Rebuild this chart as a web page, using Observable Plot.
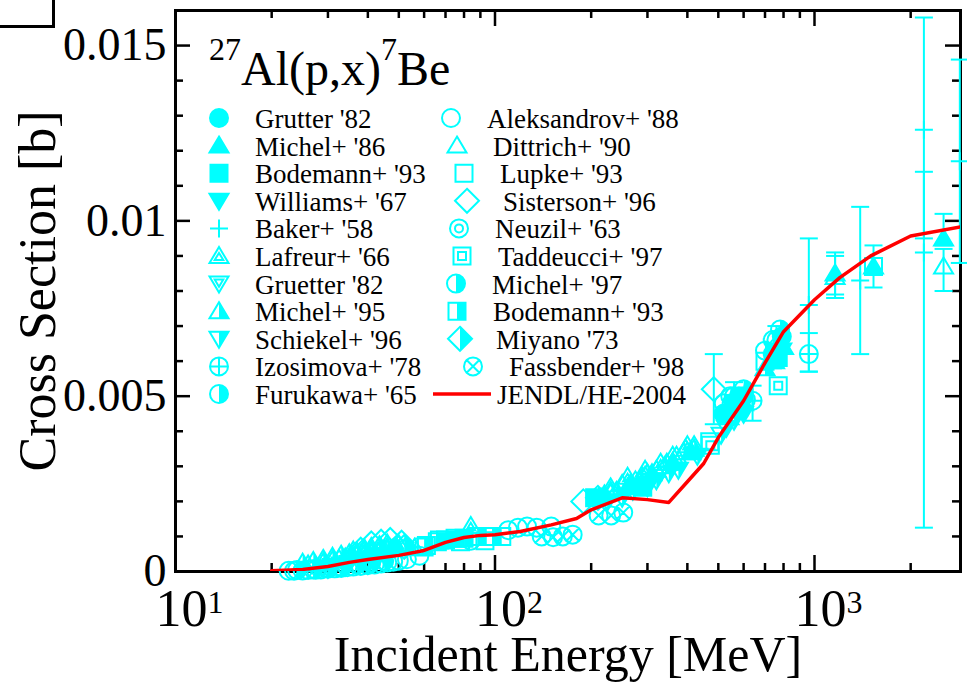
<!DOCTYPE html>
<html><head><meta charset="utf-8">
<script src="https://cdn.jsdelivr.net/npm/d3@7"></script>
<script src="https://cdn.jsdelivr.net/npm/@observablehq/plot@0.6"></script>
<style>
html,body{margin:0;padding:0;background:#fff;}
#wrap{position:relative;width:967px;height:683px;overflow:hidden;background:#fff;}
#wrap svg{position:absolute;left:0;top:0;}
</style></head><body><div id="wrap"></div>
<script>
// ---------------- DATA ----------------
// [energy MeV, cross section b]  or  [energy, xs, lower, upper] for points with error bars
const grutter82   = [[520,0.0045],[560,0.0048],[600,0.0050],[740,0.0062],[790,0.0067]];
const michel86    = [[220,0.0022],[265,0.0025],[310,0.0028],[360,0.0031],[410,0.0034],[550,0.0046],[600,0.0048],[750,0.0060],[800,0.0064],
                     [1160,0.0085,0.0079,0.0091],[1530,0.0087,0.0081,0.0093],[2535,0.0095,0.0093,0.0102]];
const bodemann93  = [[205,0.0021],[290,0.0024],[580,0.0047],[770,0.0061]];
const williams67  = [[600,0.0045],[790,0.0063]];
const baker58     = [[960,0.0076,0.0057,0.0095],[1390,0.0083,0.0062,0.0104],[2200,0.0126,0.0095,0.0158],[2200,0.0091,0.00125,0.0114],[2850,0.0117,0.0088,0.0146]];
const lafreur66   = [[36,0.0006],[39,0.00066],[41,0.0007],[43.5,0.00075],[46,0.0008],[50,0.00078],[84,0.0013],[230,0.0024],[260,0.0027],[295,0.0029],[330,0.0031],[360,0.0033],[400,0.0036]];
const gruetter82  = [[29,0.00012],[31,0.00016],[33,0.0002],[35,0.00024],[38,0.0003],[40,0.00035],[43,0.0004],[46,0.00045]];
const michel95    = [[25,0.00025],[27,0.0003],[29,0.00036],[31,0.00042],[33,0.00048],[35,0.00052],[37,0.00056],[39,0.0006],[41,0.00062],[44,0.00066],[46,0.0007],[49,0.0007],
                     [215,0.0021],[240,0.0023],[260,0.0024],[285,0.0026],[300,0.0028],[340,0.0030],[360,0.0031],[390,0.0034],[420,0.0035],[700,0.0058],[760,0.0064]];
const schiekel96  = [[30,0.00008],[34,0.00014],[40,0.0002],[225,0.0020],[250,0.0021],[270,0.0023],[300,0.0024],[320,0.0026],[350,0.0028],[375,0.0029],[430,0.0033],[510,0.0039],[530,0.0041],[560,0.0043]];
const izosimova78 = [[640,0.00487,0.0043,0.0053],[960,0.0062,0.0057,0.0068]];
const furukawa65  = [[24,0.00004],[27,0.00006],[30,0.0001],[33,0.00014],[37,0.0002],[41,0.00026],[45,0.0003]];
const aleksandrov88 = [[22.6,0.00002],[23.5,0.00002],[25,0.00003],[26,0.00004],[27.5,0.00005],[28.5,0.00006],[30,0.00008],[31.5,0.00009],[33,0.0001],[34.5,0.00012],[36,0.00014],[38,0.00016],
                       [40,0.00018],[42,0.0002],[44,0.00023],[46,0.00026],[48,0.00028],[50,0.00031],[53,0.00035],[58,0.00045],
                       [84,0.00088],[110,0.00118],[118,0.00125],[126,0.00128],[135,0.00125],[150,0.00128],[520,0.0045],[550,0.0048],[580,0.0050],[610,0.0049]];
const dittrich90  = [[26,0.0002],[29,0.00026],[31,0.00032],[32.5,0.00036],[34,0.0004],[35.5,0.00044],[37,0.00048],[39,0.0005],[41,0.00054],[43,0.00058],[45,0.00062],[48,0.00066],[52,0.00066],[56,0.00068],
                     [230,0.0023],[250,0.0025],[275,0.0026],[290,0.0027],[320,0.0029],[345,0.0031],[370,0.0033],[395,0.0035],[420,0.0036],[540,0.0044],[730,0.0060],
                     [1160,0.0084,0.0078,0.0090],[2535,0.0087,0.0080,0.0092]];
const lupke93     = [[61,0.00074],[67,0.0009],[78,0.00085],[93,0.00088],[105,0.0010],[470,0.0037],[1530,0.0087]];
const sisterson96 = [[38,0.00062],[41,0.0008],[44,0.00085],[47,0.0009],[51,0.00082],[189,0.0020],[484,0.0052,0.0042,0.0062]];
const neuzil63    = [[560,0.0047],[770,0.0064]];
const taddeucci97 = [[472,0.0036],[770,0.0053]];
const michel97    = [[520,0.0048],[545,0.0050],[560,0.0050,0.0046,0.0054],[600,0.0052],[700,0.0063],[740,0.0066],[760,0.0066,0.0062,0.0070],[780,0.0069]];
const bodemann93b = [[60,0.0007],[66,0.00085],[70,0.0009],[75,0.00095],[80,0.00095],[88,0.001],[98,0.0010],[700,0.0060]];
const miyano73    = [[52,0.0007],[210,0.0021]];
const fassbender98 = [[140,0.0010],[152,0.00098],[163,0.0010],[175,0.00105],[211,0.0016],[231,0.0016],[252,0.00168]];

const jendlE = [20,25,30,35,40,50,60,70,80,90,100,120,150,180,200,250,300,350,400,450,500,600,700,800,1000,1200,1500,2000,3000];
const jendlS = [0.00002,0.00006,0.00014,0.00026,0.00034,0.00046,0.0006,0.00083,0.00097,0.00103,0.00105,0.00114,0.00133,0.00151,0.00176,0.0021,0.00205,0.00197,0.00256,0.00308,0.00382,0.00487,0.00595,0.00684,0.00775,0.00838,0.009,0.00957,0.00986];

const xMajorTicks = [10,100,1000];
const xMinorTicks = [20,30,40,50,60,70,80,90,200,300,400,500,600,700,800,900,2000];
const yMajorTicks = [0,0.005,0.01,0.015];
const yMinorTicks = [0.001,0.002,0.003,0.004,0.006,0.007,0.008,0.009,0.011,0.012,0.013,0.014];
const xLabel = "Incident Energy [MeV]";
const yLabel = "Cross Section [b]";
const jendlName = "JENDL/HE-2004";

// ---------------- STYLE ----------------
const CYAN = "#00ffff", RED = "#ff0000";
const W = 967, H = 683, ML = 175, MR = 7, MT = 10, MB = 112;
const FW = W - ML - MR, FH = H - MT - MB;
const R = 9;
const tri = (p, s) => { p.moveTo(0, -9*s); p.lineTo(9.5*s, 7*s); p.lineTo(-9.5*s, 7*s); p.closePath(); };
const triD = (p, s) => { p.moveTo(0, 9*s); p.lineTo(9.5*s, -7*s); p.lineTo(-9.5*s, -7*s); p.closePath(); };
const circ = (p, r) => { p.moveTo(r, 0); p.arc(0, 0, r, 0, 2*Math.PI); };
const sq = (p, h) => { p.rect(-h, -h, 2*h, 2*h); };
const dia = (p, h) => { p.moveTo(0,-h); p.lineTo(h,0); p.lineTo(0,h); p.lineTo(-h,0); p.closePath(); };
const shapes = {
  circle:   {out: p => circ(p, R), full: p => circ(p, R), half: p => { p.moveTo(0,-R); p.arc(0,0,R,-Math.PI/2,Math.PI/2); p.closePath(); }},
  triangle: {out: p => tri(p, 1), full: p => tri(p, 1), half: p => { p.moveTo(0,-9); p.lineTo(9.5,7); p.lineTo(0,7); p.closePath(); }},
  triDown:  {out: p => triD(p, 1), full: p => triD(p, 1), half: p => { p.moveTo(0,9); p.lineTo(9.5,-7); p.lineTo(0,-7); p.closePath(); }},
  square:   {out: p => sq(p, 8.5), full: p => sq(p, 8.5), half: p => p.rect(0,-8.5,8.5,17)},
  diamond:  {out: p => dia(p, 12), full: p => dia(p, 12), half: p => { p.moveTo(0,-12); p.lineTo(12,0); p.lineTo(0,12); p.closePath(); }},
  plus:     {out: p => { p.moveTo(-9,0); p.lineTo(9,0); p.moveTo(0,-9); p.lineTo(0,9); }},
  dblTri:   {out: p => { tri(p,1); p.moveTo(0,-3.1); p.lineTo(4.3,4.1); p.lineTo(-4.3,4.1); p.closePath(); }},
  dblTriD:  {out: p => { triD(p,1); p.moveTo(0,3.1); p.lineTo(4.3,-4.1); p.lineTo(-4.3,-4.1); p.closePath(); }},
  dblCirc:  {out: p => { circ(p, R); circ(p, 4); }},
  dblSq:    {out: p => { sq(p, 8.5); sq(p, 4); }},
  oplus:    {out: p => { circ(p, R); p.moveTo(-R,0); p.lineTo(R,0); p.moveTo(0,-R); p.lineTo(0,R); }},
  otimes:   {out: p => { circ(p, R); const d = R*0.707; p.moveTo(-d,-d); p.lineTo(d,d); p.moveTo(-d,d); p.lineTo(d,-d); }}
};
const cap = {draw(p){ p.moveTo(-9,0); p.lineTo(9,0); }};
const sym = fn => ({draw(p){ fn(p); }});

const series = [
  {name: "Grutter '82",      data: grutter82,   shape: "circle",   fill: "full"},
  {name: "Michel+ '86",      data: michel86,    shape: "triangle", fill: "full"},
  {name: "Bodemann+ '93",    data: bodemann93,  shape: "square",   fill: "full"},
  {name: "Williams+ '67",    data: williams67,  shape: "triDown",  fill: "full"},
  {name: "Baker+ '58",       data: baker58,     shape: "plus"},
  {name: "Lafreur+ '66",     data: lafreur66,   shape: "dblTri"},
  {name: "Gruetter '82",     data: gruetter82,  shape: "dblTriD"},
  {name: "Michel+ '95",      data: michel95,    shape: "triangle", fill: "half"},
  {name: "Schiekel+ '96",    data: schiekel96,  shape: "triDown",  fill: "half"},
  {name: "Izosimova+ '78",   data: izosimova78, shape: "oplus"},
  {name: "Furukawa+ '65",    data: furukawa65,  shape: "circle",   fill: "half"},
  {name: "Aleksandrov+ '88", data: aleksandrov88, shape: "circle"},
  {name: "Dittrich+ '90",    data: dittrich90,  shape: "triangle"},
  {name: "Lupke+ '93",       data: lupke93,     shape: "square"},
  {name: "Sisterson+ '96",   data: sisterson96, shape: "diamond"},
  {name: "Neuzil+ '63",      data: neuzil63,    shape: "dblCirc"},
  {name: "Taddeucci+ '97",   data: taddeucci97, shape: "dblSq"},
  {name: "Michel+ '97",      data: michel97,    shape: "circle",   fill: "half"},
  {name: "Bodemann+ '93",    data: bodemann93b, shape: "square",   fill: "half"},
  {name: "Miyano '73",       data: miyano73,    shape: "diamond",  fill: "half"},
  {name: "Fassbender+ '98",  data: fassbender98, shape: "otimes"}
];

// ---------------- MARKS ----------------
const seriesMarks = [];
for (const s of series) {
  const err = s.data.filter(d => d.length === 4);
  if (err.length) {
    seriesMarks.push(Plot.ruleX(err, {x: d => d[0], y1: d => d[2], y2: d => d[3], stroke: CYAN, strokeWidth: 2}));
    seriesMarks.push(Plot.dot(err, {x: d => d[0], y: d => d[2], symbol: cap, stroke: CYAN, strokeWidth: 2, fill: "none"}));
    seriesMarks.push(Plot.dot(err, {x: d => d[0], y: d => d[3], symbol: cap, stroke: CYAN, strokeWidth: 2, fill: "none"}));
  }
  const sh = shapes[s.shape];
  if (s.fill) seriesMarks.push(Plot.dot(s.data, {x: d => d[0], y: d => d[1], symbol: sym(sh[s.fill]), fill: CYAN, stroke: "none"}));
  seriesMarks.push(Plot.dot(s.data, {x: d => d[0], y: d => d[1], symbol: sym(sh.out), stroke: CYAN, strokeWidth: 2, fill: "none"}));
}
const jendl = jendlE.map((e, i) => ({e, s: jendlS[i]}));

const chart = Plot.plot({
  width: W, height: H,
  marginLeft: ML, marginRight: MR, marginTop: MT, marginBottom: MB,
  x: {type: "log", domain: [10, 2864]},
  y: {domain: [0, 0.016]},
  style: {fontFamily: "'Liberation Serif', serif", color: "black", background: "white", overflow: "visible"},
  marks: [
    Plot.frame({stroke: "black", strokeWidth: 3}),
    Plot.tickX(xMajorTicks, {x: d => d, insetTop: FH - 16, stroke: "black", strokeWidth: 2.5}),
    Plot.tickX(xMinorTicks, {x: d => d, insetTop: FH - 8, stroke: "black", strokeWidth: 2.5}),
    Plot.tickX(xMajorTicks, {x: d => d, insetBottom: FH - 16, stroke: "black", strokeWidth: 2.5}),
    Plot.tickX(xMinorTicks, {x: d => d, insetBottom: FH - 8, stroke: "black", strokeWidth: 2.5}),
    Plot.tickY(yMajorTicks, {y: d => d, insetRight: FW - 15, stroke: "black", strokeWidth: 2.5}),
    Plot.tickY(yMinorTicks, {y: d => d, insetRight: FW - 8, stroke: "black", strokeWidth: 2.5}),
    Plot.tickY(yMajorTicks, {y: d => d, insetLeft: FW - 15, stroke: "black", strokeWidth: 2.5}),
    Plot.tickY(yMinorTicks, {y: d => d, insetLeft: FW - 8, stroke: "black", strokeWidth: 2.5}),
    Plot.axisX(xMajorTicks, {tickSize: 0, tickPadding: 18, fontSize: 52, label: null, tickFormat: d => "10^" + Math.round(Math.log10(d))}),
    Plot.axisY(yMajorTicks, {tickSize: 0, tickPadding: 9, fontSize: 46, label: null, tickFormat: d => d === 0 ? "0" : String(d)}),
    Plot.text([xLabel], {frameAnchor: "bottom", textAnchor: "middle", dy: 99, fontSize: 50}),
    Plot.text([yLabel], {frameAnchor: "left", textAnchor: "middle", dx: -137, rotate: -90, fontSize: 52}),
    ...seriesMarks,
    Plot.line(jendl, {x: "e", y: "s", stroke: RED, strokeWidth: 3.5, clip: true})
  ]
});
document.getElementById("wrap").appendChild(chart);

// superscript exponents on x tick labels
d3.select(chart).selectAll('[aria-label="x-axis tick label"] text').each(function() {
  const [b, e] = this.textContent.split("^");
  const t = d3.select(this); t.text(null);
  t.append("tspan").attr("dx", 14).text(b);
  t.append("tspan").attr("dy", "-0.42em").attr("font-size", "32px").text(e);
});

// ---------------- OVERLAY: title, legend ----------------
const ov = d3.create("svg").attr("width", W).attr("height", H)
  .attr("font-family", "'Liberation Serif', serif").style("pointer-events", "none");
ov.append("path").attr("d", "M0,26.5H53.5V0").attr("fill", "none").attr("stroke", "black").attr("stroke-width", 3);
const title = ov.append("text").attr("x", 209).attr("y", 85).attr("font-size", 48).attr("fill", "black");
title.append("tspan").attr("font-size", 32).attr("dy", -25).text("27");
title.append("tspan").attr("dy", 25).text("Al(p,x)");
title.append("tspan").attr("font-size", 32).attr("dy", -25).text("7");
title.append("tspan").attr("dy", 25).text("Be");

function pathOf(fn) { const p = d3.path(); fn(p); return p.toString(); }
function legendSymbol(s, cx, cy) {
  const sh = shapes[s.shape];
  const g = ov.append("g").attr("transform", `translate(${cx},${cy})`);
  if (s.fill) g.append("path").attr("d", pathOf(sh[s.fill])).attr("fill", CYAN);
  g.append("path").attr("d", pathOf(sh.out)).attr("fill", "none").attr("stroke", CYAN).attr("stroke-width", 2);
}
const rowY = i => 118 + 27.6 * i;
const rightSymX = [451, 457, 464, 467, 459, 462, 456, 457, 460, 473];
const rightTextX = [487, 493, 500, 503, 495, 498, 492, 493, 496, 509];
series.forEach((s, i) => {
  let sx, tx, y;
  if (i < 11) { sx = 219; tx = 255; y = rowY(i); }
  else { const j = i - 11; sx = rightSymX[j]; tx = rightTextX[j]; y = rowY(j); }
  legendSymbol(s, sx, y);
  ov.append("text").attr("x", tx).attr("y", y + 10).attr("font-size", 27).attr("fill", "black").text(s.name);
});
ov.append("line").attr("x1", 433).attr("x2", 491).attr("y1", rowY(10)).attr("y2", rowY(10)).attr("stroke", RED).attr("stroke-width", 3.5);
ov.append("text").attr("x", 497).attr("y", rowY(10) + 10).attr("font-size", 27).attr("fill", "black").text(jendlName);
document.getElementById("wrap").appendChild(ov.node());
</script>
</body></html>
